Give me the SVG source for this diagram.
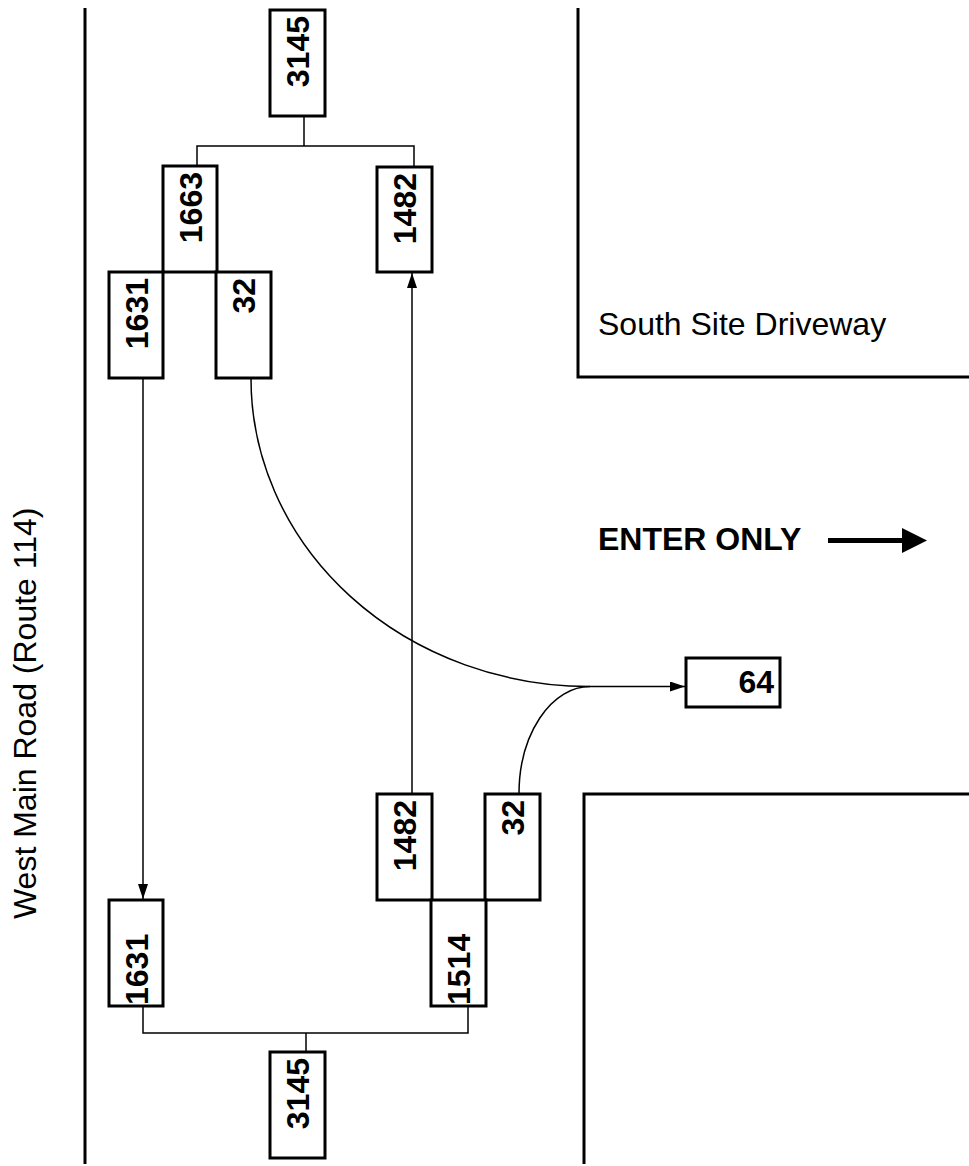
<svg xmlns="http://www.w3.org/2000/svg" width="969" height="1166" viewBox="0 0 969 1166">
<style>
.road{fill:none;stroke:#000;stroke-width:3}
.box{fill:#fff;stroke:#000;stroke-width:3}
.num{font-family:"Liberation Sans",Arial,sans-serif;font-weight:bold;font-size:32px;fill:#000}
.lbl{font-family:"Liberation Sans",Arial,sans-serif;font-size:32px;fill:#000}
.conn{fill:none;stroke:#000;stroke-width:1.5}
</style>
<defs>
<marker id="ah" viewBox="0 0 15 10" refX="15" refY="5" markerWidth="15" markerHeight="10" markerUnits="userSpaceOnUse" orient="auto">
<path d="M0,0 L15,5 L0,10 z" fill="#000"/>
</marker>
</defs>
<rect width="969" height="1166" fill="#fff"/>
<g id="roads">
<line class="road" x1="85" y1="8" x2="85" y2="1164"/>
<polyline class="road" points="578,8 578,377 969,377"/>
<polyline class="road" points="584,1164 584,794 969,794"/>
</g>
<g id="labels">
<text class="lbl" transform="translate(36,919) rotate(-90)">West Main Road (Route 114)</text>
<text class="lbl" x="598" y="335">South Site Driveway</text>
<text class="num" x="598" y="550">ENTER ONLY</text>
<line x1="828" y1="540.5" x2="904" y2="540.5" stroke="#000" stroke-width="5"/>
<polygon points="902,528 927,540.5 902,553" fill="#000"/>
</g>
<g id="connectors">
<polyline class="conn" points="304,116 304,146"/>
<polyline class="conn" points="197,166 197,146 414,146 414,167"/>
<polyline class="conn" points="143,1006 143,1033 468,1033 468,1006"/>
<polyline class="conn" points="306,1033 306,1052"/>
<line class="conn" x1="143" y1="378" x2="143" y2="899" marker-end="url(#ah)"/>
<line class="conn" x1="412" y1="794" x2="412" y2="273" marker-end="url(#ah)"/>
<path class="conn" d="M251,378 A339,308 0 0 0 590,686.5"/>
<path class="conn" d="M519,794 A71,107.5 0 0 1 590,686.5"/>
<line class="conn" x1="590" y1="686.5" x2="685" y2="686.5" marker-end="url(#ah)"/>
</g>
<g id="n-3145-top"><rect class="box" x="270" y="10" width="55" height="106"/><text class="num" text-anchor="end" transform="translate(309,16) rotate(-90)">3145</text></g>
<g id="n-1663"><rect class="box" x="163" y="166" width="54" height="106"/><text class="num" text-anchor="end" transform="translate(201.5,172) rotate(-90)">1663</text></g>
<g id="n-1482-top"><rect class="box" x="377" y="167" width="55" height="105"/><text class="num" text-anchor="end" transform="translate(416,173) rotate(-90)">1482</text></g>
<g id="n-1631-top"><rect class="box" x="109" y="272" width="54" height="106"/><text class="num" text-anchor="end" transform="translate(147.5,278) rotate(-90)">1631</text></g>
<g id="n-32-top"><rect class="box" x="216" y="272" width="55" height="106"/><text class="num" text-anchor="end" transform="translate(255,278) rotate(-90)">32</text></g>
<g id="n-64"><rect class="box" x="686" y="658" width="94" height="49"/><text class="num" text-anchor="end" x="774" y="693">64</text></g>
<g id="n-1482-bot"><rect class="box" x="377" y="794" width="55" height="106"/><text class="num" text-anchor="end" transform="translate(416,800) rotate(-90)">1482</text></g>
<g id="n-32-bot"><rect class="box" x="485" y="794" width="55" height="106"/><text class="num" text-anchor="end" transform="translate(524,800) rotate(-90)">32</text></g>
<g id="n-1631-bot"><rect class="box" x="109" y="900" width="54" height="106"/><text class="num" transform="translate(147.5,1005) rotate(-90)">1631</text></g>
<g id="n-1514"><rect class="box" x="431" y="900" width="55" height="106"/><text class="num" transform="translate(470,1005) rotate(-90)">1514</text></g>
<g id="n-3145-bot"><rect class="box" x="270" y="1052" width="55" height="106"/><text class="num" text-anchor="end" transform="translate(309,1058) rotate(-90)">3145</text></g>
</svg>
